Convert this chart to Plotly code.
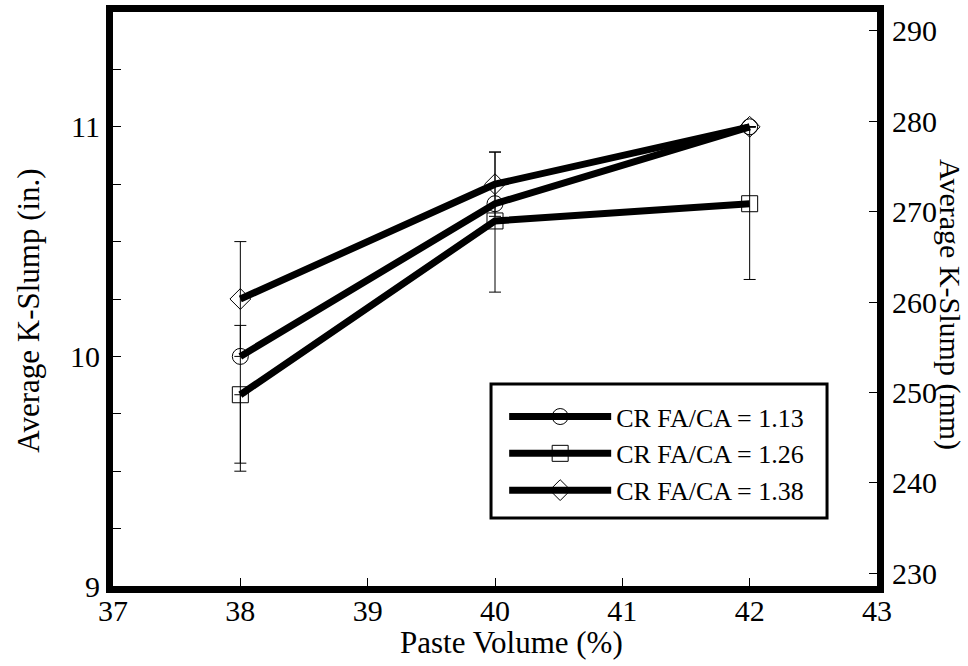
import plotly.graph_objects as go

# ---- data ----
paste_volume = [38, 40, 42]
series_names = ["CR FA/CA = 1.13", "CR FA/CA = 1.26", "CR FA/CA = 1.38"]
slump_113 = [10.0, 10.665, 11.0]
slump_126 = [9.833, 10.59, 10.665]
slump_138 = [10.25, 10.75, 11.0]
err_plus_113 = [0.135, 0.0, 0.0]
err_minus_113 = [0.465, 0.0, 0.0]
err_plus_126 = [0.0, 0.3, 0.335]
err_minus_126 = [0.333, 0.31, 0.33]
err_plus_138 = [0.25, 0.14, 0.0]
err_minus_138 = [0.25, 0.14, 0.0]
symbols = ["circle-open", "square-open", "diamond-open"]
x_ticks = [37, 38, 39, 40, 41, 42, 43]
y_ticks_in = [9, 10, 11]
y_ticks_mm = [230, 240, 250, 260, 270, 280, 290]
MM_PER_IN = 25.4

FONT = "Liberation Serif"

fig = go.Figure()
series = [
    (slump_113, err_plus_113, err_minus_113),
    (slump_126, err_plus_126, err_minus_126),
    (slump_138, err_plus_138, err_minus_138),
]
for name, sym, (vals, ep, em) in zip(series_names, symbols, series):
    fig.add_trace(go.Scatter(
        x=paste_volume, y=vals, name=name, mode="lines+markers",
        line=dict(color="black", width=7),
        marker=dict(symbol=sym, size=16, color="black", line=dict(width=1, color="black")),
        error_y=dict(type="data", symmetric=False, array=ep, arrayminus=em,
                     color="black", thickness=1, width=6),
    ))

# invisible trace on the mm axis so it gets drawn
fig.add_trace(go.Scatter(
    x=paste_volume, y=[v * MM_PER_IN for v in slump_113], yaxis="y2",
    mode="markers", marker=dict(opacity=0), showlegend=False, hoverinfo="skip",
))

axis_common = dict(
    ticks="inside", ticklen=8, tickwidth=1, tickcolor="black",
    showline=True, linewidth=7, linecolor="black",
    showgrid=False, zeroline=False, automargin=False,
    tickfont=dict(family=FONT, size=30, color="black"),
)

fig.update_layout(
    width=968, height=666,
    margin=dict(l=113, r=91, t=12, b=80),
    paper_bgcolor="white", plot_bgcolor="white",
    font=dict(family=FONT, color="black"),
    showlegend=True,
    legend=dict(
        x=0.512, y=0.336, xanchor="left", yanchor="top",
        bgcolor="rgba(0,0,0,0)", borderwidth=0,
        font=dict(family=FONT, size=26, color="black"),
        itemwidth=102,
    ),
    xaxis=dict(range=[37, 43], tickvals=x_ticks, mirror=True,
               ticklabelstandoff=-8, **axis_common),
    yaxis=dict(range=[9, 11.5], tickvals=y_ticks_in,
               minor=dict(dtick=0.25, tick0=9, ticks="inside", ticklen=8,
                          tickwidth=1, tickcolor="black"),
               **axis_common),
    yaxis2=dict(range=[9 * MM_PER_IN, 11.5 * MM_PER_IN], tickvals=y_ticks_mm,
                overlaying="y", side="right", ticklabelstandoff=2, **axis_common),
    shapes=[
        dict(type="rect", xref="paper", yref="paper",
             x0=0.4948, x1=0.9346, y0=0.1185, y1=0.352,
             line=dict(color="black", width=3), fillcolor="white", layer="below"),
    ],
    annotations=[
        dict(text="Paste Volume (%)", xref="paper", yref="paper", x=0.521, y=-0.099,
             showarrow=False, xanchor="center", yanchor="middle",
             font=dict(family=FONT, size=31, color="black")),
        dict(text="Average K-Slump (in.)", xref="paper", yref="paper", x=-0.111, y=0.48,
             showarrow=False, xanchor="center", yanchor="middle", textangle=-90,
             font=dict(family=FONT, size=31, color="black")),
        dict(text="Average K-Slump (mm)", xref="paper", yref="paper", x=1.0965, y=0.49,
             showarrow=False, xanchor="center", yanchor="middle", textangle=90,
             font=dict(family=FONT, size=30, color="black")),
    ],
)

fig.write_html("out.html")
